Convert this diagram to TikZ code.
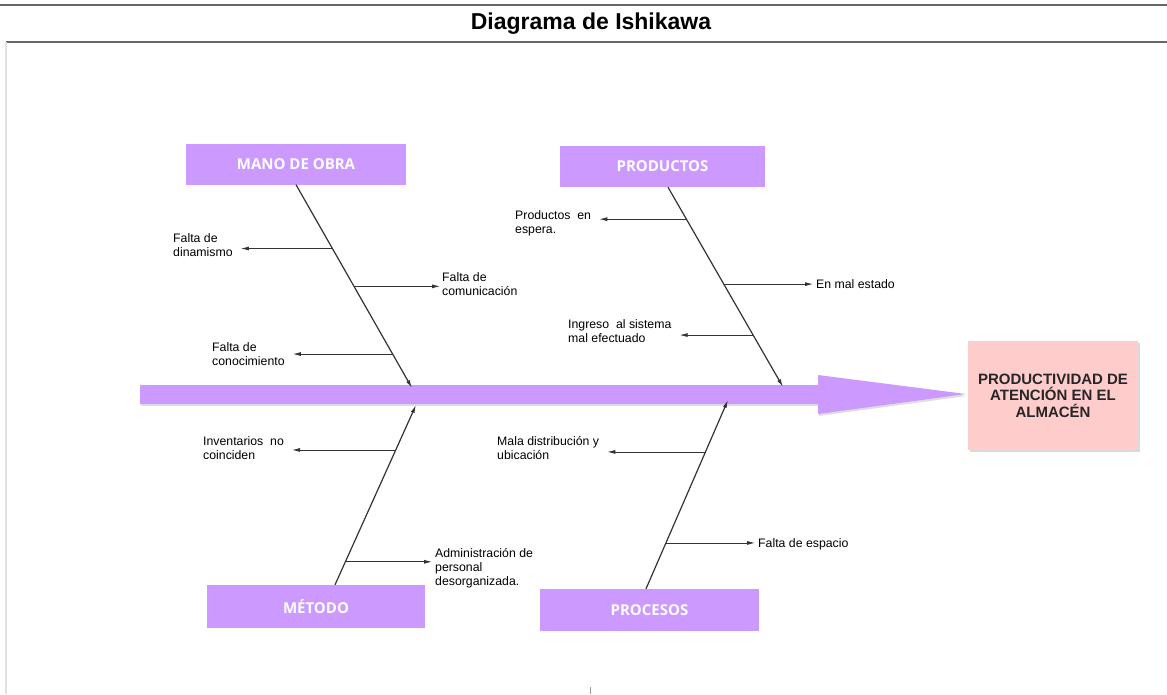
\documentclass[tikz,border=0pt]{standalone}
\usepackage{fontspec}
\setmainfont{Liberation Sans}
\newfontfamily\catfont{Open Sans}
\usepackage{tikz}
\usetikzlibrary{arrows.meta,calc,shadows}

\definecolor{lila}{HTML}{CC99FF}
\definecolor{rosa}{HTML}{FFCCCC}

\tikzset{
	categoria/.style={fill=lila, minimum height=41pt, text=white,
		font=\catfont\bfseries\fontsize{15}{17}\selectfont},
	efecto/.style={fill=rosa, minimum width=170pt, minimum height=109pt, align=center,
		text=black!85, font=\bfseries\fontsize{15}{16.5}\selectfont,
		drop shadow={opacity=0.3, shadow xshift=1.5pt, shadow yshift=-2pt}},
	causa/.style={align=left, inner sep=0pt, anchor=west, font=\fontsize{12.3}{14}\selectfont},
	espina/.style={draw=black!80, line width=1.2pt, -{Latex[length=8pt,width=4pt]}},
	flecha/.style={draw=black!80, line width=0.8pt, -{Latex[length=8pt,width=4pt]}}
}

\begin{document}
\begin{tikzpicture}[x=1pt, y=-1pt]
				\useasboundingbox (0,0) rectangle (1167,694);
				
				% Frame and title
				\draw[line width=2.5pt, black!60] (0,5) -- (1167,5);
				\draw[line width=2.5pt, black!60] (6,42) -- (1167,42);
				\draw[line width=1.5pt, black!12] (6,42) -- (6,694);
				\draw[line width=1pt, black!40] (590,687) -- (590,694); % small tick
				\node (titulo) at (591,24) {\fontsize{23}{26}\selectfont\bfseries Diagrama de Ishikawa};
				
				% Spine
				\fill[lila, drop shadow={opacity=0.25, shadow xshift=1pt, shadow yshift=-2pt}]
					(140,385) -- (818,385) -- (818,375) -- (966,394) -- (818,414) -- (818,404) -- (140,404) -- cycle;
				\coordinate (moFin) at (412,388);
				\coordinate (prFin) at (783,387);
				\coordinate (meFin) at (416,405);
				\coordinate (pcFin) at (728,400);
				
				% Effect
				\node[efecto] (efecto) at (1053,395.5) {PRODUCTIVIDAD DE\\ATENCIÓN EN EL\\ALMACÉN};
				
				% Categories
				\node[categoria, minimum width=220pt] (mo) at (296,164) {MANO DE OBRA};
				\node[categoria, minimum width=205pt] (pr) at (662.5,166.5) {PRODUCTOS};
				\node[categoria, minimum width=218pt, minimum height=43pt] (me) at (316,606.5) {MÉTODO};
				\node[categoria, minimum width=219pt, minimum height=42pt] (pc) at (649.5,610) {PROCESOS};
				
				% Bones
				\coordinate (moIni) at (mo.south);
				\coordinate (prIni) at ([xshift=5.5pt]pr.south);
				\coordinate (meIni) at ([xshift=19pt]me.north);
				\coordinate (pcIni) at ([xshift=-3.5pt]pc.north);
				\draw[espina] (moIni) -- (moFin);
				\draw[espina] (prIni) -- (prFin);
				\draw[espina] (meIni) -- (meFin);
				\draw[espina] (pcIni) -- (pcFin);
				
				% Points on the bones
				\coordinate (mo1) at ($(moIni)!0.314!(moFin)$);
				\coordinate (mo2) at ($(moIni)!0.5!(moFin)$);
				\coordinate (mo3) at ($(moIni)!0.833!(moFin)$);
				\coordinate (pr1) at ($(prIni)!0.16!(prFin)$);
				\coordinate (pr2) at ($(prIni)!0.485!(prFin)$);
				\coordinate (pr3) at ($(prIni)!0.74!(prFin)$);
				\coordinate (me1) at ($(meIni)!0.128!(meFin)$);
				\coordinate (me2) at ($(meIni)!0.75!(meFin)$);
				\coordinate (pc1) at ($(pcIni)!0.243!(pcFin)$);
				\coordinate (pc2) at ($(pcIni)!0.725!(pcFin)$);
				
				% Causes
				\node[causa] (dinamismo) at (173,245) {Falta de\\dinamismo};
				\node[causa] (comunicacion) at (442,284) {Falta de\\comunicación};
				\node[causa] (conocimiento) at (212,354) {Falta de\\conocimiento};
				\node[causa] (espera) at (515,223) {Productos\ \ en\\espera.};
				\node[causa] (estado) at (816,284) {En mal estado};
				\node[causa] (ingreso) at (568,331) {Ingreso\ \ al sistema\\mal efectuado};
				\node[causa] (inventarios) at (203,448) {Inventarios\ \ no\\coinciden};
				\node[causa] (administracion) at (435,568) {Administración de\\personal\\desorganizada.};
				\node[causa] (distribucion) at (497,448) {Mala distribución y\\ubicación};
				\node[causa] (espacio) at (758,544) {Falta de espacio};
				
				% Cause arrows
				\draw[flecha, shorten >=8pt] (mo1) -- (mo1 -| dinamismo.east);
				\draw[flecha, shorten >=2pt] (mo2) -- (mo2 -| comunicacion.west);
				\draw[flecha, shorten >=8pt] (mo3) -- (mo3 -| conocimiento.east);
				\draw[flecha, shorten >=8pt] (pr1) -- (pr1 -| espera.east);
				\draw[flecha, shorten >=3pt] (pr2) -- (pr2 -| estado.west);
				\draw[flecha, shorten >=8pt] (pr3) -- (pr3 -| ingreso.east);
				\draw[flecha, shorten >=3pt] (me1) -- (me1 -| administracion.west);
				\draw[flecha, shorten >=8pt] (me2) -- (me2 -| inventarios.east);
				\draw[flecha, shorten >=3pt] (pc1) -- (pc1 -| espacio.west);
				\draw[flecha, shorten >=8pt] (pc2) -- (pc2 -| distribucion.east);
			\end{tikzpicture}
\end{document}
